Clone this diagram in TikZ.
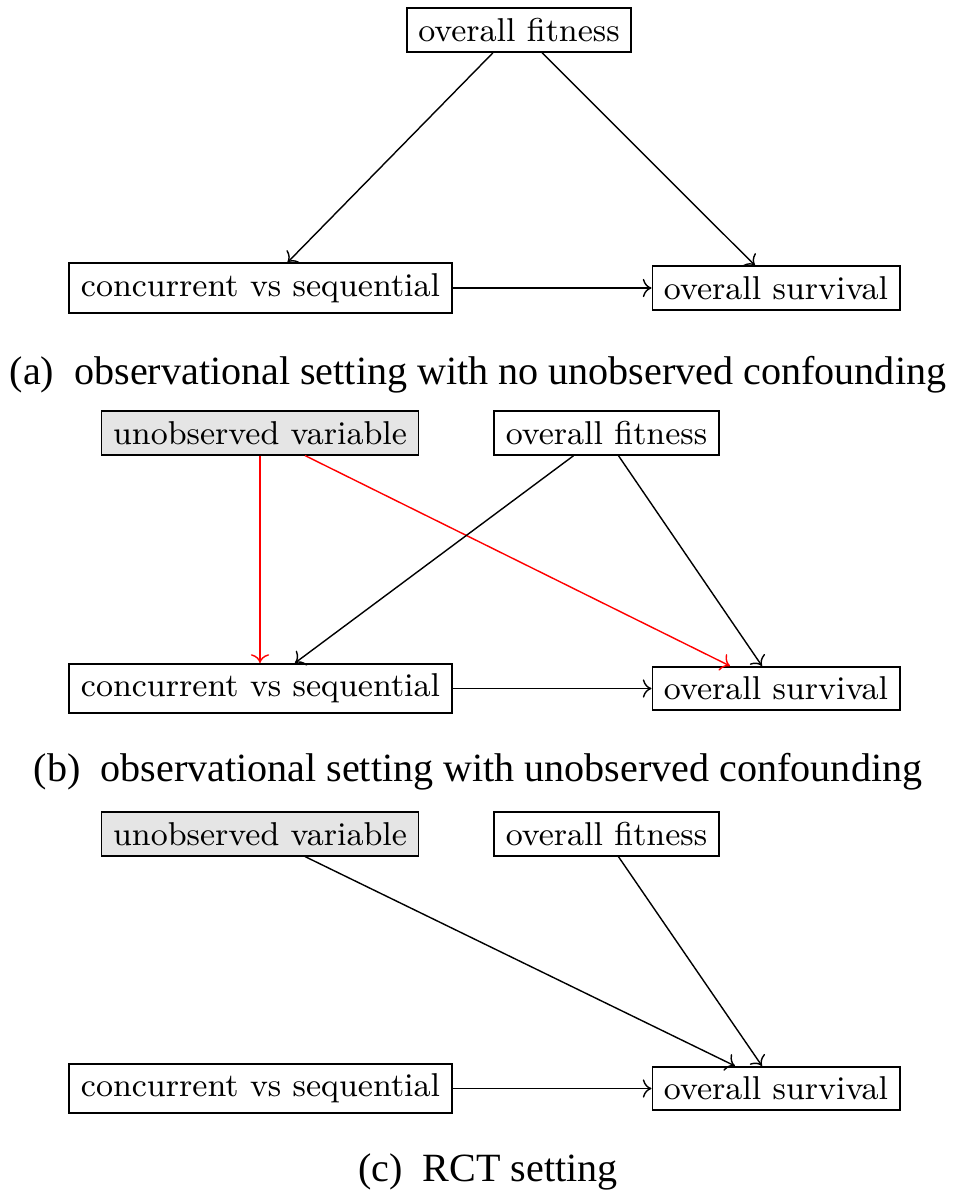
\documentclass[tikz,border=0pt]{standalone}
\usepackage{fontspec}
\usepackage{xcolor}
\usetikzlibrary{arrows.meta, positioning, calc}
\newfontfamily\capfont{Liberation Serif}

\begin{document}
\begin{tikzpicture}[
    x=0.01cm, y=-0.01cm,
    % Node styles
    varbox/.style={draw, fill=white, align=center, inner xsep=3.3pt, inner ysep=2.85pt, line width=0.5pt, font=\fontsize{9.4}{11}\selectfont},
    hiddenbox/.style={varbox, fill=gray!20},
    capnode/.style={font=\capfont\fontsize{11.4}{13}\selectfont, inner sep=0pt},
    arrow/.style={->, line width=0.4pt},
    redarrow/.style={->, line width=0.4pt, color=red}
]
\useasboundingbox (0,0) rectangle (958,1190);

% ========== (a) no unobserved confounding ==========
\node[varbox] (fitA) at (519,30) {overall fitness};
\node[varbox] (concA) at (260.5,288) {concurrent vs sequential};
\node[varbox] (survA) at (776,288) {overall survival};
\node[capnode] (capA) at (478,375) {(a)\enspace observational setting with no unobserved confounding};

\draw[arrow] ([xshift=-0.26cm]fitA.south) -- ([xshift=0.27cm]concA.north);
\draw[arrow] ([xshift=0.23cm]fitA.south) -- ([xshift=-0.21cm]survA.north);
\draw[arrow] (concA.east) -- (concA.east -| survA.west);

% ========== (b) unobserved confounding ==========
\node[hiddenbox] (hidB) at (260,433) {unobserved variable};
\node[varbox] (fitB) at (606.5,433) {overall fitness};
\node[varbox] (concB) at (260.5,688.5) {concurrent vs sequential};
\node[varbox] (survB) at (776,688.5) {overall survival};
\node[capnode] (capB) at (478,772) {(b)\enspace observational setting with unobserved confounding};

\draw[redarrow] (hidB.south) -- (hidB.south |- concB.north);
\draw[redarrow] ([xshift=0.45cm]hidB.south) -- ([xshift=-0.46cm]survB.north);
\draw[arrow] ([xshift=-0.33cm]fitB.south) -- ([xshift=0.345cm]concB.north);
\draw[arrow] ([xshift=0.12cm]fitB.south) -- ([xshift=-0.14cm]survB.north);
\draw[arrow] (concB.east) -- (concB.east -| survB.west);

% ========== (c) RCT ==========
\node[hiddenbox] (hidC) at (260,834) {unobserved variable};
\node[varbox] (fitC) at (606.5,834) {overall fitness};
\node[varbox] (concC) at (260.5,1088.5) {concurrent vs sequential};
\node[varbox] (survC) at (776,1088.5) {overall survival};
\node[capnode] (capC) at (488,1172) {(c)\enspace RCT setting};

\draw[arrow] ([xshift=0.45cm]hidC.south) -- ([xshift=-0.41cm]survC.north);
\draw[arrow] ([xshift=0.12cm]fitC.south) -- ([xshift=-0.14cm]survC.north);
\draw[arrow] (concC.east) -- (concC.east -| survC.west);

\end{tikzpicture}
\end{document}
